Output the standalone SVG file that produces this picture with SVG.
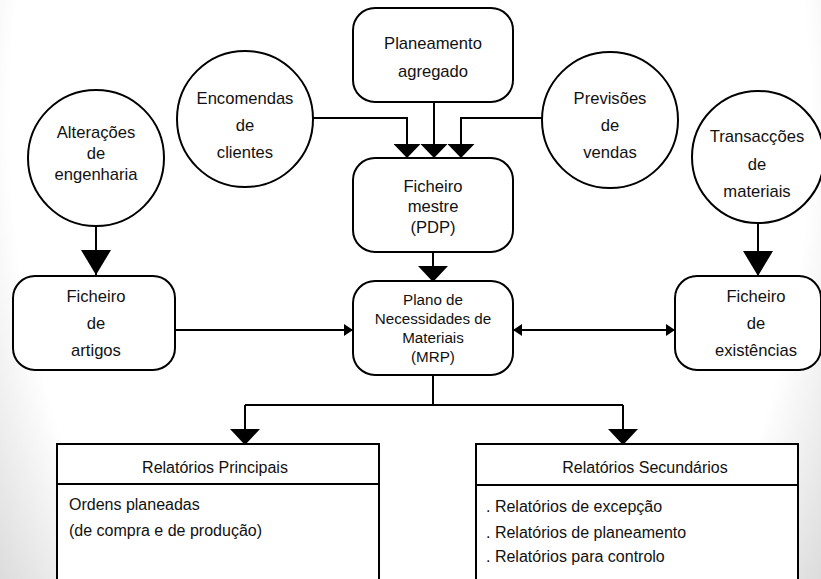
<svg xmlns="http://www.w3.org/2000/svg" width="821" height="579" viewBox="0 0 821 579">
  <defs>
    <style>
      .node { fill: #ffffff; stroke: #000000; stroke-width: 2; }
      .line { fill: none; stroke: #000000; stroke-width: 2; }
      text { font-family: "Liberation Sans", Arial, sans-serif; font-size: 16.6px; fill: #111111; }
      .c { text-anchor: middle; }
      .sm { font-size: 15.2px; }
      .rep { font-size: 16px; }
    </style>
    <radialGradient id="pageShade" gradientUnits="userSpaceOnUse" cx="410" cy="120" r="500"
                    gradientTransform="translate(410 120) scale(1 1.6) translate(-410 -120)">
      <stop offset="0" stop-color="#ffffff"/>
      <stop offset="0.8" stop-color="#ffffff"/>
      <stop offset="1" stop-color="#dcdcdc"/>
    </radialGradient>
    <!-- arrowheads: tip sits at the path end -->
    <marker id="arrow-tall" viewBox="0 0 25 30" refX="25" refY="15" markerWidth="25" markerHeight="30" markerUnits="userSpaceOnUse" orient="auto">
      <path d="M0,0 L25,15 L0,30 Z" fill="#000"/>
    </marker>
    <marker id="arrow-flat" viewBox="0 0 16 30" refX="16" refY="15" markerWidth="16" markerHeight="30" markerUnits="userSpaceOnUse" orient="auto">
      <path d="M0,0 L16,15 L0,30 Z" fill="#000"/>
    </marker>
    <marker id="arrow-notch" viewBox="0 0 14 27" refX="14" refY="13.5" markerWidth="14" markerHeight="27" markerUnits="userSpaceOnUse" orient="auto">
      <path d="M0,0 L14,13.5 L0,27 Z" fill="#000"/>
    </marker>
    <marker id="arrow-small" viewBox="0 0 9 12" refX="9" refY="6" markerWidth="9" markerHeight="12" markerUnits="userSpaceOnUse" orient="auto-start-reverse">
      <path d="M0,0 L9,6 L0,12 Z" fill="#000"/>
    </marker>
  </defs>

  <!-- page background with soft edge shading -->
  <rect x="0" y="0" width="821" height="579" fill="url(#pageShade)"/>

  <!-- connectors -->
  <g id="connectors">
    <path class="line" d="M313,118 H407 V158" marker-end="url(#arrow-notch)"/>
    <path class="line" d="M434,102 V158" marker-end="url(#arrow-notch)"/>
    <path class="line" d="M542,118 H461 V158" marker-end="url(#arrow-notch)"/>
    <path class="line" d="M433,252 V282" marker-end="url(#arrow-flat)"/>
    <path class="line" d="M96,226 V275" marker-end="url(#arrow-tall)"/>
    <path class="line" d="M758,224 V276" marker-end="url(#arrow-tall)"/>
    <path class="line" d="M175,330 H353" marker-end="url(#arrow-small)"/>
    <path class="line" d="M513,330 H675" marker-start="url(#arrow-small)" marker-end="url(#arrow-small)"/>
    <path class="line" d="M433,375 V405"/>
    <path class="line" d="M245,405 H623"/>
    <path class="line" d="M245,405 V445" marker-end="url(#arrow-flat)"/>
    <path class="line" d="M623,405 V445" marker-end="url(#arrow-flat)"/>
  </g>

  <g id="planeamento-agregado">
    <rect class="node" x="353" y="8" width="160" height="94" rx="22" ry="22"/>
    <text class="c" x="433" y="49">Planeamento</text>
    <text class="c" x="433" y="77">agregado</text>
  </g>

  <g id="encomendas-clientes">
    <circle class="node" cx="245" cy="119" r="68"/>
    <text class="c" x="245" y="104">Encomendas</text>
    <text class="c" x="245" y="131">de</text>
    <text class="c" x="245" y="158">clientes</text>
  </g>

  <g id="previsoes-vendas">
    <circle class="node" cx="610" cy="120" r="68"/>
    <text class="c" x="610" y="104">Previsões</text>
    <text class="c" x="610" y="131">de</text>
    <text class="c" x="610" y="158">vendas</text>
  </g>

  <g id="alteracoes-engenharia">
    <circle class="node" cx="96" cy="158" r="68"/>
    <text class="c" x="96" y="138">Alterações</text>
    <text class="c" x="96" y="159">de</text>
    <text class="c" x="96" y="180">engenharia</text>
  </g>

  <g id="transaccoes-materiais">
    <circle class="node" cx="758" cy="157" r="66"/>
    <text class="c" x="757" y="142">Transacções</text>
    <text class="c" x="757" y="170">de</text>
    <text class="c" x="757" y="197">materiais</text>
  </g>

  <g id="ficheiro-mestre">
    <rect class="node" x="353" y="158" width="160" height="94" rx="22" ry="22"/>
    <text class="c" x="433" y="192">Ficheiro</text>
    <text class="c" x="433" y="212">mestre</text>
    <text class="c" x="433" y="233">(PDP)</text>
  </g>

  <g id="ficheiro-artigos">
    <rect class="node" x="13" y="276" width="162" height="94" rx="22" ry="22"/>
    <text class="c" x="96" y="302">Ficheiro</text>
    <text class="c" x="96" y="329">de</text>
    <text class="c" x="96" y="356">artigos</text>
  </g>

  <g id="mrp">
    <rect class="node" x="353" y="281" width="160" height="94" rx="22" ry="22"/>
    <text class="c sm" x="433" y="305">Plano de</text>
    <text class="c sm" x="433" y="324">Necessidades de</text>
    <text class="c sm" x="433" y="343">Materiais</text>
    <text class="c sm" x="433" y="362">(MRP)</text>
  </g>

  <g id="ficheiro-existencias">
    <rect class="node" x="675" y="276" width="146" height="94" rx="22" ry="22"/>
    <text class="c" x="756" y="302">Ficheiro</text>
    <text class="c" x="756" y="329">de</text>
    <text class="c" x="756" y="356">existências</text>
  </g>

  <g id="relatorios-principais">
    <rect class="node" x="57" y="444" width="322" height="150"/>
    <line class="line" x1="57" y1="484" x2="379" y2="484"/>
    <text class="c rep" x="215" y="473">Relatórios Principais</text>
    <text class="rep" x="69" y="510">Ordens planeadas</text>
    <text class="rep" x="69" y="536">(de compra e de produção)</text>
  </g>

  <g id="relatorios-secundarios">
    <rect class="node" x="476" y="444" width="322" height="150"/>
    <line class="line" x1="476" y1="485" x2="798" y2="485"/>
    <text class="c rep" x="645" y="473">Relatórios Secundários</text>
    <text class="rep" x="486" y="512">. Relatórios de excepção</text>
    <text class="rep" x="486" y="538">. Relatórios de planeamento</text>
    <text class="rep" x="486" y="562">. Relatórios para controlo</text>
  </g>
</svg>
